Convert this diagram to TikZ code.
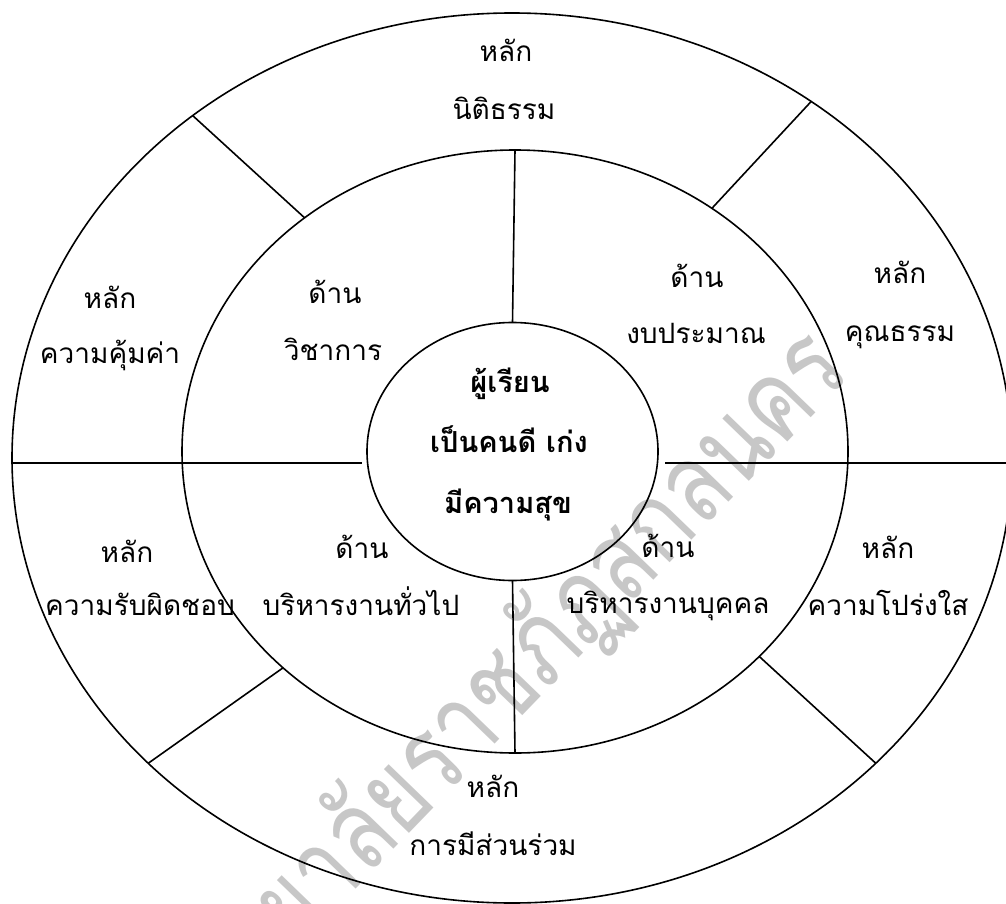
\documentclass[tikz,border=0pt]{standalone}
\usepackage{fontspec}
\newfontfamily\thai[Script=Thai]{Loma}
\newfontfamily\wmfont[Script=Thai,FakeStretch=0.78]{Loma}
\usetikzlibrary{shapes.geometric}
\begin{document}
\begin{tikzpicture}[x=1pt,y=-1pt,
  ring/.style={draw, ellipse, inner sep=0pt, outer sep=0pt, line width=1.6pt},
  divider/.style={line width=1.6pt},
  lbl/.style={font=\thai\fontsize{28}{30}\selectfont, anchor=base, inner sep=0pt},
  ctr/.style={font=\thai\bfseries\fontsize{29}{31}\selectfont, anchor=base, inner sep=0pt},
  wm/.style={font=\wmfont\fontsize{112}{112}\selectfont, text=black!22, inner sep=0pt}]
\useasboundingbox (0,0) rectangle (1006,904);
\clip (0,0) rectangle (1006,904);
\fill[white] (0,0) rectangle (1006,904);
% watermark
\node[wm, anchor=mid east, rotate=46] (wmark) at (852,372) {มหาวิทยาลัยราชภัฏสกลนคร};
% rings
\node[ring, minimum width=1000pt, minimum height=890pt] (outer) at (512,458) {};
\node[ring, minimum width=666pt, minimum height=603pt] (middle) at (515,451.5) {};
\node[ring, minimum width=291pt, minimum height=258pt] (inner) at (512.5,451.5) {};
% horizontal dividers
\coordinate (hl1) at (12,463);
\coordinate (hl2) at (362,463);
\coordinate (hr1) at (665,463);
\coordinate (hr2) at (1006,463);
\draw[divider] (hl1) -- (hl2);
\draw[divider] (hr1) -- (hr2);
% vertical dividers
\draw[divider] (inner.north) -- (middle.north);
\draw[divider] (inner.south) -- (middle.south);
% diagonal dividers
\draw[divider] (middle.132.8) -- (outer.133.3);
\draw[divider] (middle.51.6) -- (outer.50.7);
\draw[divider] (middle.223) -- (outer.220.9);
\draw[divider] (middle.320.3) -- (outer.320.3);
% labels
\node[lbl] (t1a) at (506,62) {หลัก};
\node[lbl] (t1b) at (504,120) {นิติธรรม};
\node[lbl] (t2a) at (110,308) {หลัก};
\node[lbl] (t2b) at (110,363) {ความคุ้มค่า};
\node[lbl] (t3a) at (335,303) {ด้าน};
\node[lbl] (t3b) at (333,360) {วิชาการ};
\node[lbl] (t4a) at (697,287) {ด้าน};
\node[lbl] (t4b) at (696,343) {งบประมาณ};
\node[lbl] (t5a) at (900,283) {หลัก};
\node[lbl] (t5b) at (900,341) {คุณธรรม};
\node[lbl] (t6a) at (127,562) {หลัก};
\node[lbl] (t6b) at (140,615) {ความรับผิดชอบ};
\node[lbl] (t7a) at (362,558) {ด้าน};
\node[lbl] (t7b) at (361,615) {บริหารงานทั่วไป};
\node[lbl] (t8a) at (668,557) {ด้าน};
\node[lbl] (t8b) at (668,613) {บริหารงานบุคคล};
\node[lbl] (t9a) at (888,558) {หลัก};
\node[lbl] (t9b) at (888,615) {ความโปร่งใส};
\node[lbl] (t10a) at (493,797) {หลัก};
\node[lbl] (t10b) at (493,855) {การมีส่วนร่วม};
\node[ctr] (c1) at (510,392) {ผู้เรียน};
\node[ctr] (c2) at (509,452) {เป็นคนดี เก่ง};
\node[ctr] (c3) at (508,513) {มีความสุข};
\end{tikzpicture}
\end{document}
